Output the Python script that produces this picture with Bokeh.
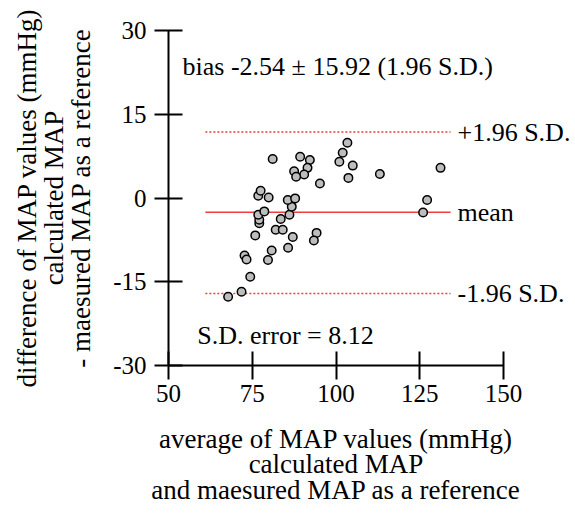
from bokeh.plotting import figure
from bokeh.models import Range1d, FixedTicker, Label, ColumnDataSource, LinearAxis
from bokeh.embed import file_html
from bokeh.resources import INLINE

# --- data ---
avg_map = [67.8, 71.8, 74.4, 72.7, 73.3, 75.9, 79.7, 80.8, 85.7, 87.1,
           82.0, 84.1, 83.5, 77.1, 77.1, 76.8, 78.6, 86.1, 86.8, 85.6,
           87.8, 76.8, 77.5, 79.9, 81.1, 89.3, 92.2, 91.5, 90.5, 87.5,
           88.1, 95.2, 94.2, 93.4, 103.4, 102.0, 101.0, 105.0, 103.7, 113.1,
           131.2, 127.2, 126.0]
diff_map = [-17.7, -16.8, -14.1, -10.3, -11.0, -6.7, -11.1, -9.4, -8.9, -7.0,
            -5.7, -5.7, -3.75, -4.5, -3.9, -3.0, -2.4, -3.0, -1.55, -0.36,
            -0.07, 0.4, 1.3, 0.1, 7.0, 7.4, 6.8, 5.4, 4.2, 4.8,
            3.8, 2.6, -6.25, -7.6, 9.9, 8.1, 6.5, 5.8, 3.6, 4.3,
            5.4, -0.36, -2.6]

mean_diff = -2.57
upper_loa = 11.8
lower_loa = -17.1
line_x = [61, 134.2]
line_names = ["+1.96 S.D.", "mean", "-1.96 S.D."]

x_ticks = [50, 75, 100, 125, 150]
y_ticks = [-30, -15, 0, 15, 30]
y_tick_labels = ["-30", "-15", "0", "15", "30"]

FONT = "Liberation Serif"
FS = "26px"
AFS = "27px"
TFS = "25px"

p = figure(frame_width=335, frame_height=335, output_backend="svg",
           toolbar_location=None, x_range=Range1d(50, 150), y_range=Range1d(-30, 30),
           min_border_left=168, min_border_top=30, min_border_right=69, min_border_bottom=150)
p.outline_line_color = None
p.grid.visible = False

for ax in (p.xaxis[0], p.yaxis[0]):
    ax.axis_line_width = 2
    ax.major_tick_line_width = 2
    ax.major_tick_in = 14
    ax.major_tick_out = 14
    ax.minor_tick_line_color = None
    ax.major_label_text_font = FONT
    ax.major_label_text_font_size = TFS
    ax.major_label_text_color = "black"
    ax.axis_label_text_font = FONT
    ax.axis_label_text_font_size = AFS
    ax.axis_label_text_font_style = "normal"
    ax.axis_label_text_color = "black"

p.xaxis.ticker = FixedTicker(ticks=x_ticks)
p.yaxis.ticker = FixedTicker(ticks=y_ticks)
p.yaxis.major_label_overrides = {t: s for t, s in zip(y_ticks, y_tick_labels)}
p.xaxis.major_label_standoff = 5
p.yaxis.major_label_standoff = 8
p.xaxis.axis_label = "average of MAP values (mmHg)\ncalculated MAP\nand maesured MAP as a reference"
p.yaxis.axis_label = "difference of MAP values (mmHg)\ncalculated MAP\n- maesured MAP as a reference"
p.xaxis.axis_label_text_line_height = 0.86
p.yaxis.axis_label_text_line_height = 0.9
p.xaxis.axis_label_standoff = 19
p.yaxis.axis_label_standoff = 14

# right-hand names of the reference lines, drawn as tick labels of an invisible axis
lvl = [upper_loa, mean_diff, lower_loa]
rax = LinearAxis(ticker=FixedTicker(ticks=lvl),
                 major_label_overrides={v: n for v, n in zip(lvl, line_names)},
                 axis_line_color=None, major_tick_line_color=None, minor_tick_line_color=None,
                 major_tick_in=0, major_tick_out=0, major_label_standoff=-46,
                 major_label_text_font=FONT, major_label_text_font_size=FS,
                 major_label_text_color="black")
p.add_layout(rax, "right")

red = "#f03c3c"
p.line(line_x, [upper_loa, upper_loa], line_color=red, line_width=1.5, line_dash="2 2")
p.line(line_x, [lower_loa, lower_loa], line_color=red, line_width=1.5, line_dash="2 2")
p.line(line_x, [mean_diff, mean_diff], line_color=red, line_width=1.5)

src = ColumnDataSource(dict(x=avg_map, y=diff_map))
p.scatter("x", "y", source=src, size=8.5, fill_color="#bdbdbd", line_color="black", line_width=1.5)

def lab(x, y, t):
    p.add_layout(Label(x=x, y=y, text=t, text_font=FONT, text_font_size=FS,
                       text_baseline="alphabetic", text_align="left", text_color="black"))

lab(54.2, 23.55, "bias -2.54 \u00b1 15.92 (1.96 S.D.)")
lab(58.6, -24.6, "S.D. error = 8.12")

open("out.html", "w").write(file_html(p, INLINE))
